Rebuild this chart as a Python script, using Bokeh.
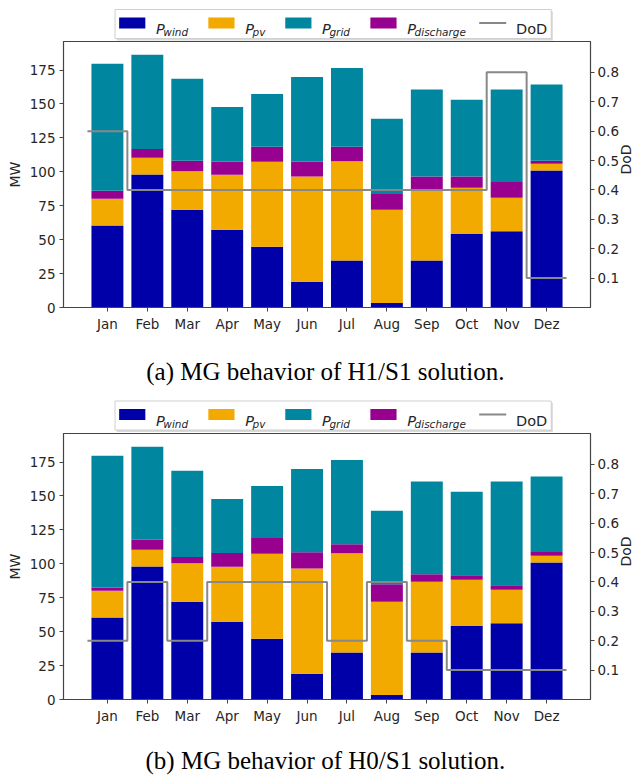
import math
from bokeh.plotting import figure
from bokeh.models import ColumnDataSource, Range1d, LinearAxis, FixedTicker
from bokeh.layouts import column
from bokeh.embed import file_html
from bokeh.resources import INLINE
from bokeh.core.properties import value

# ---------------- data ----------------
months = ["Jan", "Feb", "Mar", "Apr", "May", "Jun", "Jul", "Aug", "Sep", "Oct", "Nov", "Dez"]
p_wind = [60.5, 98.0, 72.0, 57.3, 44.8, 19.0, 34.7, 3.4, 34.7, 54.2, 56.2, 101.0]
p_pv = [19.7, 12.3, 28.4, 40.6, 62.6, 77.5, 73.1, 68.7, 52.0, 34.1, 24.7, 5.0]

p_discharge_a = [5.8, 6.4, 7.7, 9.7, 11.1, 11.1, 10.7, 11.5, 9.9, 8.3, 11.5, 2.1]
p_grid_a = [93.6, 69.5, 60.5, 40.1, 38.8, 62.2, 57.9, 55.5, 64.1, 56.5, 68.2, 56.2]
dod_a = [0.6, 0.4, 0.4, 0.4, 0.4, 0.4, 0.4, 0.4, 0.4, 0.4, 0.8, 0.1]

p_discharge_b = [2.3, 7.5, 4.6, 10.1, 11.6, 12.0, 6.6, 12.8, 5.6, 3.3, 3.3, 2.7]
p_grid_b = [97.1, 68.4, 63.6, 39.7, 38.3, 61.3, 62.0, 54.2, 68.4, 61.5, 76.4, 55.6]
dod_b = [0.2, 0.4, 0.2, 0.4, 0.4, 0.4, 0.2, 0.4, 0.2, 0.1, 0.1, 0.1]

mw_ticks = [0, 25, 50, 75, 100, 125, 150, 175]
dod_ticks = [0.1, 0.2, 0.3, 0.4, 0.5, 0.6, 0.7, 0.8]
series_subs = ["wind", "pv", "grid", "discharge"]
caption_a = "(a) MG behavior of H1/S1 solution."
caption_b = "(b) MG behavior of H0/S1 solution."

# ---------------- style ----------------
C_WIND = "#0000A8"
C_PV = "#F2A900"
C_GRID = "#00879F"
C_DIS = "#980090"
C_DOD = "#888888"
colors = [C_WIND, C_PV, C_GRID, C_DIS]
AX = "#444444"
TXT = "#262626"
SANS = "DejaVu Sans"
SERIF = "Liberation Serif"
W = 644
FL, FR = 63, 596  # frame left/right in page px


def blank(height):
    f = figure(width=W, height=height, x_range=Range1d(0, W), y_range=Range1d(height, 0),
               output_backend="svg", toolbar_location=None,
               min_border_left=0, min_border_right=0, min_border_top=0, min_border_bottom=0)
    f.axis.visible = False
    f.grid.visible = False
    f.outline_line_color = None
    f.background_fill_color = "white"
    f.border_fill_color = "white"
    return f


def draw_legend(f, y0):
    f.quad(left=[FL + 2], right=[FR + 2], top=[y0 + 2], bottom=[y0 + 31],
           fill_color="#d9d9d9", line_color=None)
    f.quad(left=[FL], right=[FR], top=[y0], bottom=[y0 + 29],
           fill_color="white", line_color="#cfcfcf", line_width=1)
    sx = [68, 177, 271, 375]
    f.quad(left=sx, right=[s + 32 for s in sx], top=[y0 + 8] * 4, bottom=[y0 + 19] * 4,
           fill_color=colors, line_color=None)
    f.text(x=[s + 45 for s in sx], y=[y0 + 19.5] * 4, text=["P"] * 4,
           text_font=value(SANS), text_font_style="italic", text_font_size="14.5px",
           text_color=TXT, text_baseline="alphabetic", text_align="left")
    f.text(x=[s + 54 for s in sx], y=[y0 + 22.5] * 4, text=series_subs,
           text_font=value(SANS), text_font_style="italic", text_font_size="10.5px",
           text_color=TXT, text_baseline="alphabetic", text_align="left")
    f.line(x=[508, 541], y=[y0 + 13.5, y0 + 13.5], line_color=C_DOD, line_width=2)
    f.text(x=[553], y=[y0 + 19.5], text=["DoD"],
           text_font=value(SANS), text_font_size="14.5px",
           text_color=TXT, text_baseline="alphabetic", text_align="left")


def draw_caption(f, y, txt):
    f.text(x=[320], y=[y], text=[txt], text_font=value(SERIF), text_font_size="25px",
           text_color="black", text_align="center", text_baseline="middle")


def panel(discharge, grid, dod):
    xs = list(range(len(months)))
    src = ColumnDataSource(dict(x=xs, wind=p_wind, pv=p_pv, discharge=discharge, grid=grid))
    p = figure(width=W, height=296, x_range=Range1d(-1.1, 12.1), y_range=Range1d(0, 196),
               output_backend="svg", toolbar_location=None,
               min_border_left=FL, min_border_right=W - FR, min_border_top=0, min_border_bottom=30)
    p.background_fill_color = "white"
    p.border_fill_color = "white"
    p.grid.visible = False
    p.outline_line_color = AX
    p.outline_line_width = 1.2
    p.vbar_stack(["wind", "pv", "discharge", "grid"], x="x", width=0.8,
                 color=[C_WIND, C_PV, C_DIS, C_GRID], line_width=0, source=src)
    p.extra_y_ranges = {"dod": Range1d(0, 0.905)}
    edges = [i - 0.5 for i in xs] + [xs[-1] + 0.5]
    p.step(x=edges, y=list(dod) + [dod[-1]], mode="after", y_range_name="dod",
           line_color=C_DOD, line_width=2)

    p.xaxis.ticker = FixedTicker(ticks=xs)
    p.xaxis.major_label_overrides = {i: m for i, m in zip(xs, months)}
    p.yaxis.ticker = FixedTicker(ticks=mw_ticks)
    p.yaxis.axis_label = "MW"
    right = LinearAxis(y_range_name="dod", ticker=FixedTicker(ticks=dod_ticks), axis_label="DoD")
    p.add_layout(right, "right")
    for ax in p.axis:
        ax.axis_line_color = AX
        ax.major_tick_line_color = AX
        ax.major_tick_out = 4
        ax.major_tick_in = 0
        ax.minor_tick_line_color = None
        ax.major_label_text_font = SANS
        ax.major_label_text_font_size = "13.5px"
        ax.major_label_text_color = TXT
        ax.major_label_standoff = 4
        ax.axis_label_text_font = SANS
        ax.axis_label_text_font_size = "14px"
        ax.axis_label_text_font_style = "normal"
        ax.axis_label_text_color = TXT
        ax.axis_label_standoff = 4
    right.major_label_standoff = 3
    right.axis_label_orientation = math.pi / 2
    return p


legA = blank(41)
draw_legend(legA, 9)
pA = panel(p_discharge_a, p_grid_a, dod_a)
midA = blank(96)
draw_caption(midA, 34, caption_a)
draw_legend(midA, 63.5)
pB = panel(p_discharge_b, p_grid_b, dod_b)
capB = blank(53)
draw_caption(capB, 31, caption_b)

layout = column(legA, pA, midA, pB, capB, spacing=0)
open("out.html", "w").write(file_html(layout, INLINE))
